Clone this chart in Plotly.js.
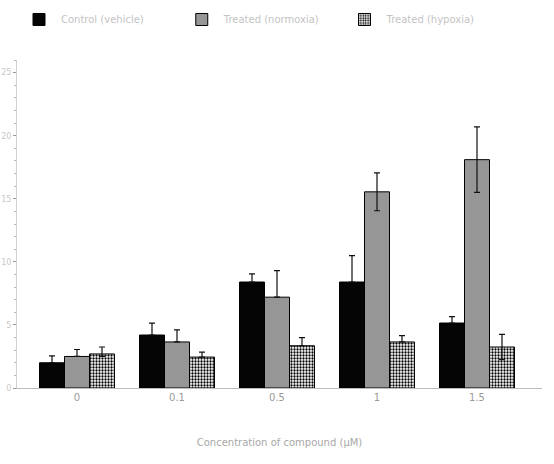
<!DOCTYPE html>
<html>
<head>
<meta charset="utf-8">
<script src="https://cdn.plot.ly/plotly-3.0.1.min.js"></script>
<style>html,body{margin:0;padding:0;background:#fff;}#chart{width:554px;height:464px;}</style>
</head>
<body>
<div id="chart"></div>
<script>
var categories = ["0", "0.1", "0.5", "1", "1.5"];
var seriesNames = ["Control (vehicle)", "Treated (normoxia)", "Treated (hypoxia)"];
var valuesA = [2.0, 4.2, 8.4, 8.4, 5.15];
var errorsA = [0.55, 0.95, 0.65, 2.1, 0.5];
var errorsAminus = [0, 0, 0, 0, 0];
var valuesB = [2.5, 3.65, 7.2, 15.55, 18.1];
var errorsB = [0.55, 0.95, 2.1, 1.5, 2.6];
var errorsBminus = [0, 0, 0, 1.5, 2.6];
var valuesC = [2.7, 2.45, 3.35, 3.65, 3.25];
var errorsC = [0.55, 0.4, 0.65, 0.5, 1.0];
var errorsCminus = [0.2, 0, 0, 0, 1.0];
var yTicks = [0, 5, 10, 15, 20, 25];

var faint = "#c4c4c4";
function errSpec(up, down){return {type:"data", array:up, arrayminus:down, symmetric:false, visible:true, color:"#111", thickness:1.2, width:3};}

var traces = [
  {type:"bar", name:seriesNames[0], x:categories, y:valuesA, error_y:errSpec(errorsA, errorsAminus),
   marker:{color:"#050505", line:{color:"#000", width:1}}},
  {type:"bar", name:seriesNames[1], x:categories, y:valuesB, error_y:errSpec(errorsB, errorsBminus),
   marker:{color:"#8a8a8a", line:{color:"#000", width:1},
     pattern:{shape:".", fgcolor:"#c9c9c9", bgcolor:"#777777", size:2, solidity:0.4}}},
  {type:"bar", name:seriesNames[2], x:categories, y:valuesC, error_y:errSpec(errorsC, errorsCminus),
   marker:{color:"#ffffff", line:{color:"#000", width:1},
     pattern:{shape:".", fgcolor:"#000", bgcolor:"#fff", size:3, solidity:0.45}}}
];

var layout = {
  width:554, height:464,
  margin:{l:17, r:12, t:60, b:76},
  paper_bgcolor:"#fff", plot_bgcolor:"#fff",
  barmode:"group", bargap:0.25, bargroupgap:0,
  showlegend:true,
  legend:{orientation:"h", x:0, xanchor:"left", y:0.958, yanchor:"middle", yref:"container",
    font:{family:"DejaVu Sans", size:10, color:faint}, itemwidth:34, traceorder:"normal",
    entrywidth:0.31, entrywidthmode:"fraction"},
  font:{family:"DejaVu Sans", size:10, color:faint},
  xaxis:{type:"category", range:[-0.6, 4.65], showline:true, linecolor:"#bdbdbd", linewidth:1,
    ticks:"", tickfont:{size:10, color:"#9a9a9a"}, showgrid:false, zeroline:false,
    title:{text:"Concentration of compound (µM)", font:{size:10, color:"#a8a8a8"}, standoff:36}},
  yaxis:{range:[0, 26], tickvals:yTicks, showline:true, linecolor:"#cfcfcf", linewidth:1,
    ticks:"outside", ticklen:3, tickcolor:"#999", tickfont:{size:8, color:"#c8c8c8"},
    minor:{ticks:"outside", dtick:1, ticklen:2, tickcolor:"#bbb"},
    showgrid:false, zeroline:false}
};

Plotly.newPlot("chart", traces, layout, {displayModeBar:false, staticPlot:true});
</script>
</body>
</html>
